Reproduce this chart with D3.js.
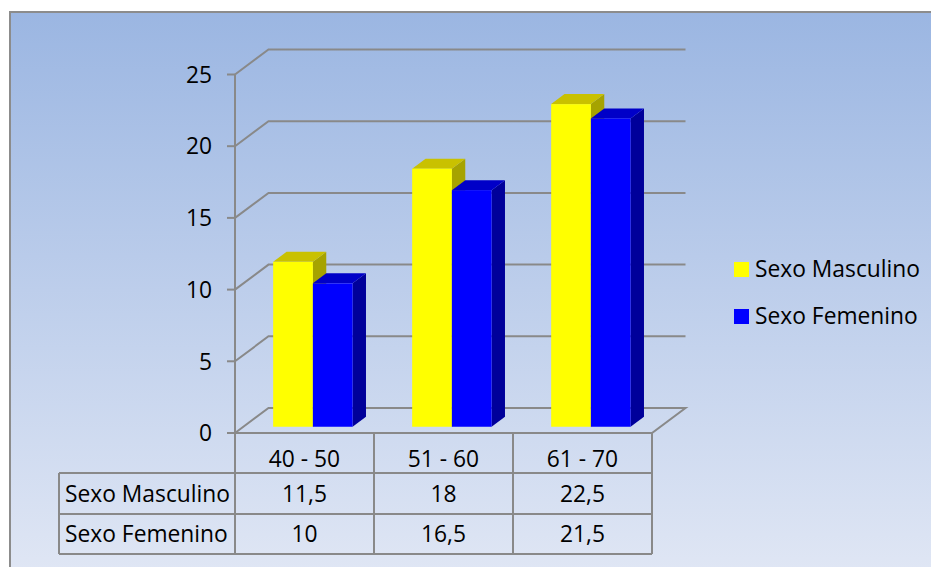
<!DOCTYPE html>
<html>
<head>
<meta charset="utf-8">
<script src="https://cdn.jsdelivr.net/npm/d3@7"></script>
<style>
  html, body { margin: 0; padding: 0; background: #ffffff; }
  svg { display: block; }
  text { font-family: "Open Sans", sans-serif; fill: #000; }
</style>
</head>
<body>
<svg id="chart" width="931" height="567"></svg>
<script>
// Age groups and values per sex
const categories = ["40 - 50", "51 - 60", "61 - 70"];
const seriesNames = ["Sexo Masculino", "Sexo Femenino"];
const masculino = [11.5, 18, 22.5];
const femenino = [10, 16.5, 21.5];
const yTickValues = [0, 5, 10, 15, 20, 25];

const seriesValues = [masculino, femenino];
const palette = [
  { front: "#FFFF00", top: "#C9C100", side: "#A6A300" },
  { front: "#0000FF", top: "#0000C8", side: "#00009A" }
];

// Comma as decimal separator
const esLocale = d3.formatLocale({ decimal: ",", thousands: ".", grouping: [3], currency: ["", " €"] });
const fmt = v => esLocale.format(Number.isInteger(v) ? "d" : ".1f")(v);

const svg = d3.select("#chart");
const FONT = 22.8;

// Background panel with vertical gradient
const defs = svg.append("defs");
const grad = defs.append("linearGradient").attr("id", "bg").attr("x1", 0).attr("y1", 0).attr("x2", 0).attr("y2", 1);
grad.append("stop").attr("offset", "0%").attr("stop-color", "#9BB6E2");
grad.append("stop").attr("offset", "100%").attr("stop-color", "#E2E8F5");
svg.append("rect").attr("x", 10).attr("y", 12).attr("width", 940).attr("height", 580)
  .attr("fill", "url(#bg)").attr("stroke", "#8C8C8C").attr("stroke-width", 2);

// Plot geometry: front plane and oblique depth
const left = 235, right = 652;
const depth = { dx: 33.5, dy: -25 };
const y = d3.scaleLinear().domain([0, 25]).range([433, 74.5]);
const x0 = d3.scaleBand().domain(categories).range([left, right]).paddingInner(0).paddingOuter(0);
const x1 = d3.scaleBand().domain(seriesNames).range([0, x0.bandwidth()]).paddingOuter(0.75).paddingInner(0);
const barFront = 0.25, barBack = 0.65;

const gridColor = "#898989";
const walls = svg.append("g").attr("fill", "none").attr("stroke", gridColor).attr("stroke-width", 2);

// Floor
walls.append("path").attr("d", d3.line()([
  [left, y(0)], [right, y(0)], [right + depth.dx, y(0) + depth.dy],
  [left + depth.dx, y(0) + depth.dy], [left, y(0)]
]));

// Side wall diagonals and back wall gridlines
yTickValues.filter(t => t > 0).forEach(t => {
  walls.append("path").attr("d", d3.line()([
    [left, y(t)], [left + depth.dx, y(t) + depth.dy], [right + depth.dx, y(t) + depth.dy]
  ]));
});

// 3D bars
const bars = svg.append("g");
categories.forEach((c, ci) => {
  seriesNames.forEach((s, si) => {
    const v = seriesValues[si][ci];
    const ox = depth.dx * barFront, oy = depth.dy * barFront;
    const bx = depth.dx * (barBack - barFront), by = depth.dy * (barBack - barFront);
    const xl = x0(c) + x1(s) + ox, xr = xl + x1.bandwidth();
    const yb = y(0) + oy, yt = y(v) + oy;
    const col = palette[si];
    bars.append("path").attr("fill", col.side).attr("d", d3.line()([
      [xr, yt], [xr + bx, yt + by], [xr + bx, yb + by], [xr, yb]
    ]) + "Z");
    bars.append("path").attr("fill", col.top).attr("d", d3.line()([
      [xl, yt], [xl + bx, yt + by], [xr + bx, yt + by], [xr, yt]
    ]) + "Z");
    bars.append("rect").attr("fill", col.front)
      .attr("x", xl).attr("y", yt).attr("width", xr - xl).attr("height", yb - yt);
  });
});

// Front value axis
const axisG = svg.append("g").attr("stroke", gridColor).attr("stroke-width", 2);
axisG.append("line").attr("x1", left).attr("x2", left).attr("y1", y(25)).attr("y2", y(0));
yTickValues.forEach(t => {
  axisG.append("line").attr("x1", left - 8).attr("x2", left).attr("y1", y(t)).attr("y2", y(t));
});
svg.append("g").selectAll("text").data(yTickValues).join("text")
  .attr("x", 212).attr("y", d => y(d)).attr("dy", "0.36em")
  .attr("text-anchor", "end").attr("font-size", FONT).text(d => d);

// Data table under the plot
const tbl = svg.append("g").attr("stroke", gridColor).attr("stroke-width", 2).attr("fill", "none");
const rowY = [y(0), 473, 514, 554];
const labelLeft = 59;
tbl.append("line").attr("x1", labelLeft).attr("x2", right).attr("y1", rowY[1]).attr("y2", rowY[1]);
tbl.append("line").attr("x1", labelLeft).attr("x2", right).attr("y1", rowY[2]).attr("y2", rowY[2]);
tbl.append("line").attr("x1", labelLeft).attr("x2", right).attr("y1", rowY[3]).attr("y2", rowY[3]);
tbl.append("line").attr("x1", labelLeft).attr("x2", labelLeft).attr("y1", rowY[1]).attr("y2", rowY[3]);
[...categories.map(c => x0(c)), right].forEach(xv => {
  tbl.append("line").attr("x1", xv).attr("x2", xv).attr("y1", rowY[0]).attr("y2", rowY[3]);
});

const tText = svg.append("g").attr("font-size", FONT);
categories.forEach((c, ci) => {
  const cx = x0(c) + x0.bandwidth() / 2;
  tText.append("text").attr("x", cx).attr("y", 467).attr("text-anchor", "middle").text(c);
  seriesValues.forEach((vals, si) => {
    tText.append("text").attr("x", cx).attr("y", [502, 542][si]).attr("text-anchor", "middle").text(fmt(vals[ci]));
  });
});
seriesNames.forEach((s, si) => {
  tText.append("text").attr("x", 65).attr("y", [502, 542][si]).text(s);
});

// Legend
const leg = svg.append("g").attr("font-size", FONT);
seriesNames.forEach((s, si) => {
  const ly = 262 + si * 47;
  leg.append("rect").attr("x", 734).attr("y", ly).attr("width", 15).attr("height", 15).attr("fill", palette[si].front);
  leg.append("text").attr("x", 755).attr("y", ly + 15).text(s);
});
</script>
</body>
</html>
